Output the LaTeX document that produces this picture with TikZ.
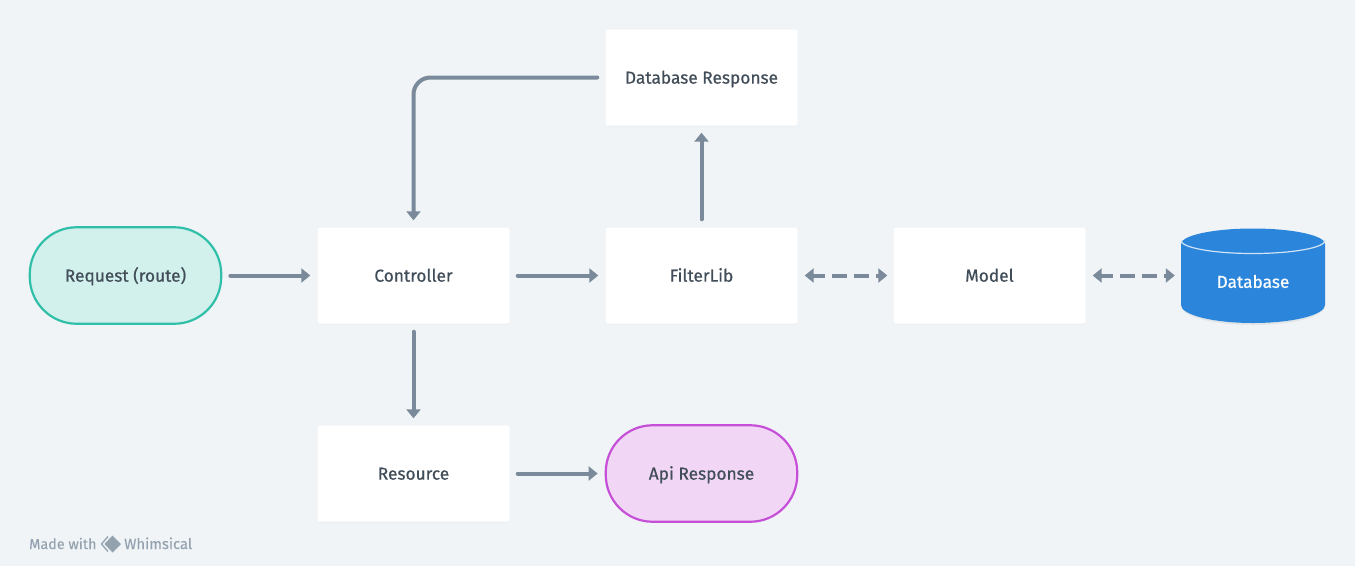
\documentclass[tikz,border=0pt]{standalone}
\usepackage{fontspec}
\setmainfont{Fira Sans}[FakeBold=0.6]
\newfontfamily\plainf{Fira Sans}[FakeBold=0.1]
\usetikzlibrary{arrows.meta,shadows,calc}
\definecolor{bgc}{HTML}{F0F4F7}
\definecolor{linec}{HTML}{7A8A9A}
\definecolor{txtc}{HTML}{414D58}
\definecolor{tealf}{HTML}{D2F0EC}
\definecolor{teals}{HTML}{30BFA9}
\definecolor{pinkf}{HTML}{F1D7F5}
\definecolor{pinks}{HTML}{C64FD8}
\definecolor{dbc}{HTML}{2B86DB}
\definecolor{dbl}{HTML}{CFE3F6}
\definecolor{wmc}{HTML}{94A2AF}
\tikzset{
  x=1pt,y=-1pt,
  lbl/.style={text=txtc,font=\fontsize{17.3}{19}\selectfont,inner sep=0pt,text height=12.3pt,text depth=0pt},
  boxn/.style={lbl,fill=white,rounded corners=2pt,minimum width=192pt,minimum height=96pt,
    drop shadow={opacity=0.04,shadow xshift=0pt,shadow yshift=-1pt}},
  pill/.style={lbl,rounded corners=47pt,minimum width=191.5pt,minimum height=96.5pt,line width=2.2pt},
  conn/.style={draw=linec,line width=4pt,-{Triangle[width=14pt,length=9pt]},shorten >=7pt,shorten <=8pt,line cap=round},
  dconn/.style={draw=linec,line width=4pt,{Triangle[width=14pt,length=9pt]}-{Triangle[width=14pt,length=9pt]},
    shorten >=6pt,shorten <=7pt,dash pattern=on 15pt off 7pt,dash phase=3pt},
}
\begin{document}
\begin{tikzpicture}
\useasboundingbox (0,0) rectangle (1355,566);
\fill[bgc] (0,0) rectangle (1355,566);
\node[pill,draw=teals,fill=tealf] (req) at (125.5,275.5) {Request (route)};
\node[boxn] (ctrl) at (413.5,275.5) {Controller};
\node[boxn] (filt) at (701.5,275.5) {FilterLib};
\node[boxn] (dbr) at (701.5,77.5) {Database Response};
\node[boxn] (model) at (989.5,275.5) {Model};
\node[boxn] (res) at (413.5,473.5) {Resource};
\node[pill,draw=pinks,fill=pinkf] (api) at (701.5,473.5) {Api Response};
% cylinder
\fill[black,opacity=0.06] (1181,247) -- (1181,306) arc[start angle=180,end angle=360,x radius=72,y radius=-19] -- (1325,247) -- cycle;
\fill[dbc] (1181,244) arc[start angle=180,end angle=0,x radius=72,y radius=-15.5]
  -- (1325,305) arc[start angle=0,end angle=-180,x radius=72,y radius=-18] -- cycle;
\draw[dbl,line width=1.2pt] (1181,240.5) arc[start angle=180,end angle=360,x radius=72,y radius=-13];
\node[inner sep=0pt,minimum width=144pt,minimum height=95pt] (db) at (1253,275.5) {};
\node[text=white,font=\fontsize{17.3}{19}\selectfont,inner sep=0pt] (dbt) at (1253,281.5) {Database};
% connectors
\draw[conn] (req) -- (ctrl);
\draw[conn] (ctrl) -- (filt);
\draw[conn] (ctrl) -- (res);
\draw[conn] (res) -- (api);
\draw[conn] (filt) -- (dbr);
\draw[conn,rounded corners=17pt] (dbr.west) -- (dbr.west -| ctrl.north) -- (ctrl.north);
\draw[dconn] (filt) -- (model);
\draw[dconn] (model) -- (db);
% watermark
\node[text=wmc,font=\plainf\fontsize{14.4}{16}\selectfont,anchor=base west,inner sep=0pt] (made) at (29,549) {Made with};
\node[text=wmc,font=\plainf\fontsize{14.8}{16}\selectfont,anchor=base west,inner sep=0pt] (whim) at (124,549) {Whimsical};
\fill[wmc] (112.5,535.5) -- (121,544) -- (112.5,552.5) -- (104.5,544) -- cycle;
\draw[wmc,line width=1.3pt] (108,536.5) -- (101.5,544) -- (108,551.5);
\end{tikzpicture}
\end{document}
